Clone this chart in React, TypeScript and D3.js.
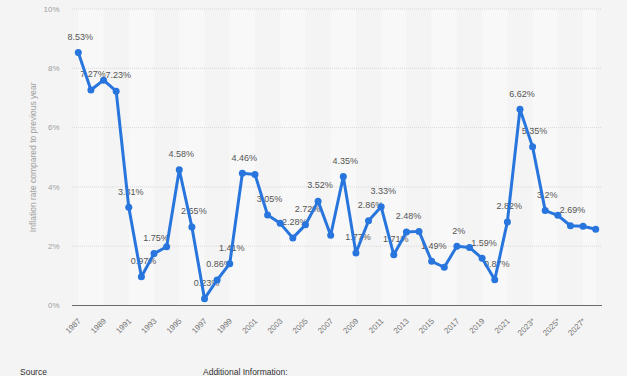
import React from "react";
import * as d3 from "d3";

const years = [
  "1987","1988","1989","1990","1991","1992","1993","1994","1995","1996",
  "1997","1998","1999","2000","2001","2002","2003","2004","2005","2006",
  "2007","2008","2009","2010","2011","2012","2013","2014","2015","2016",
  "2017","2018","2019","2020","2021","2022","2023*","2024*","2025*","2026*",
  "2027*","2028*",
];
const values = [
  8.53, 7.27, 7.6, 7.23, 3.31, 0.97, 1.75, 1.98, 4.58, 2.65,
  0.23, 0.86, 1.41, 4.46, 4.42, 3.05, 2.77, 2.28, 2.72, 3.52,
  2.37, 4.35, 1.77, 2.86, 3.33, 1.71, 2.48, 2.5, 1.49, 1.29,
  2.0, 1.96, 1.59, 0.87, 2.82, 6.62, 5.35, 3.2, 3.04, 2.69,
  2.67, 2.57,
];
const labelled = [
  true, true, false, true, true, true, true, false, true, true,
  true, true, true, true, false, true, false, true, true, true,
  false, true, true, true, true, true, true, false, true, false,
  true, false, true, true, true, true, true, true, false, true,
  false, false,
];
const yTicks = [0, 2, 4, 6, 8, 10];
const yTitle = "Inflation rate compared to previous year";

const W = 627;
const H = 376;
const left = 72;
const right = 602;
const top = 9;
const bottom = 305.5;
const FONT = "'Liberation Sans', Arial, Helvetica, sans-serif";
const BLUE = "#2876dd";

export default function App() {
  const x = d3.scaleBand<string>().domain(years).range([left, right]).padding(0);
  const y = d3.scaleLinear().domain([0, 10]).range([bottom, top]);
  const cx = (d: string) => (x(d) as number) + x.bandwidth() / 2;

  const line = d3
    .line<number>()
    .x((_, i) => cx(years[i]))
    .y((v) => y(v));

  const stripes: { x0: number; x1: number; light: boolean }[] = [];
  const bounds = [left];
  for (let i = 0; i < years.length; i += 2) bounds.push(cx(years[i]));
  bounds.push(cx(years[years.length - 1]));
  for (let k = 0; k < bounds.length - 1; k++) {
    stripes.push({ x0: bounds[k], x1: bounds[k + 1], light: k % 2 === 1 });
  }

  return (
    <svg
      width={W}
      height={H}
      style={{ position: "absolute", left: 0, top: 0, background: "#f4f4f4" }}
      fontFamily={FONT}
    >
      <rect x={0} y={0} width={W} height={H} fill="#f4f4f4" />
      {stripes.map((s, i) =>
        s.light ? (
          <rect key={i} x={s.x0} y={top} width={s.x1 - s.x0} height={bottom - top} fill="#f8f8f8" />
        ) : null
      )}
      {yTicks.filter((t) => t > 0).map((t) => (
        <line
          key={t}
          x1={left}
          x2={right}
          y1={y(t)}
          y2={y(t)}
          stroke="#d8d8d8"
          strokeWidth={1}
          strokeDasharray="1,1"
        />
      ))}
      {yTicks.map((t) => (
        <text
          key={t}
          x={59.5}
          y={y(t)}
          dy="0.35em"
          textAnchor="end"
          fontSize={8}
          fill="#a0a0a0"
        >
          {t}%
        </text>
      ))}
      <text
        transform={`translate(36,${(top + bottom) / 2}) rotate(-90)`}
        textAnchor="middle"
        fontSize={8.5}
        fill="#a0a0a0"
      >
        {yTitle}
      </text>
      <line x1={left} x2={right} y1={bottom} y2={bottom} stroke="#6b6b6b" strokeWidth={1.2} />
      {years.map((yr, i) =>
        i % 2 === 0 ? (
          <text
            key={yr}
            transform={`translate(${cx(yr) + 3},${bottom + 16}) rotate(-45)`}
            textAnchor="end"
            fontSize={8}
            fill="#777"
          >
            {yr}
          </text>
        ) : null
      )}
      {values.map((v, i) =>
        labelled[i] ? (
          <text
            key={i}
            x={cx(years[i]) + 2}
            y={y(v) - 12.7}
            textAnchor="middle"
            fontSize={9}
            fill="#555"
          >
            {`${v}%`}
          </text>
        ) : null
      )}
      <path
        d={line(values) || ""}
        fill="none"
        stroke={BLUE}
        strokeWidth={3}
        strokeLinejoin="round"
        strokeLinecap="round"
      />
      {values.map((v, i) => (
        <circle key={i} cx={cx(years[i])} cy={y(v)} r={3.5} fill={BLUE} />
      ))}
      <text x={20} y={375} fontSize={8.5} fill="#333">Source</text>
      <text x={203} y={375} fontSize={8.5} fill="#333">Additional Information:</text>
    </svg>
  );
}
